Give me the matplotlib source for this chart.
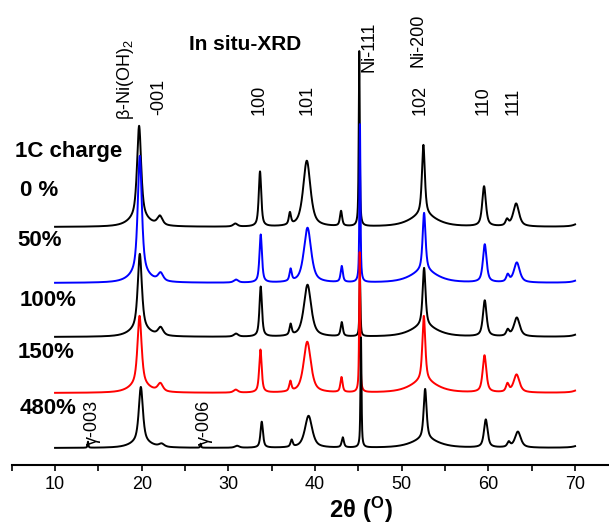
import numpy as np
import matplotlib
matplotlib.use("Agg")
import matplotlib.pyplot as plt

plt.rcParams['font.family'] = ['Liberation Sans', 'DejaVu Sans']
plt.rcParams['mathtext.fontset'] = 'custom'
plt.rcParams['mathtext.rm'] = 'Liberation Sans'
plt.rcParams['mathtext.bf'] = 'Liberation Sans:bold'

# reflection positions (2theta, deg) and half widths
peak_pos = [13.6, 19.7, 19.7, 22.1, 26.6, 30.8, 33.65, 37.1, 39.05, 43.0,
            45.1, 52.5, 52.5, 59.5, 62.15, 63.2, 71.0]
peak_hw = [0.06, 0.28, 1.3, 0.35, 0.06, 0.3, 0.17, 0.15, 0.5, 0.15,
           0.07, 0.2, 1.8, 0.25, 0.2, 0.4, 0.7]

# peak heights for each state of charge
labels = ['0 %', '50%', '100%', '150%', '480%']
colors = ['black', 'blue', 'black', 'red', 'black']
offsets = [238, 182, 128, 72, 17]
shifts = [0.0, 0.08, 0.08, 0.05, 0.2]
h_0 = [0, 92, 9, 9, 0, 3, 55, 12, 66, 15, 175, 70, 12, 40, 6, 23, 8]
h_50 = [0, 118, 9, 8, 0, 3, 48, 12, 55, 16, 158, 58, 12, 38, 7, 20, 8]
h_100 = [0, 75, 8, 8, 0, 3, 50, 11, 52, 14, 60, 58, 11, 36, 6, 19, 8]
h_150 = [0, 69, 8, 8, 0, 3, 43, 10, 51, 15, 140, 65, 12, 37, 8, 18, 8]
h_480 = [6, 55, 6, 3, 4, 2, 26, 7, 32, 10, 110, 50, 9, 28, 5, 16, 8]
heights = [h_0, h_50, h_100, h_150, h_480]

# hkl markers: text, 2theta, bottom of text
hkl_text = [r'β-Ni(OH)$_2$', '-001', '100', '101', 'Ni-111', 'Ni-200',
            '102', '110', '111', 'γ-003', 'γ-006']
hkl_x = [18.1, 22.0, 33.6, 39.1, 46.2, 51.9, 52.1, 59.4, 62.85, 14.3, 27.2]
hkl_y = [345, 350, 350, 350, 393, 398, 350, 350, 350, 20, 20]


def pattern(x, shift, hs):
    y = np.zeros_like(x)
    for p, w, h in zip(peak_pos, peak_hw, hs):
        d = (x - p - shift) / w
        lor = 1 / (1 + d ** 2)
        gau = np.exp(-np.log(2) * d ** 2)
        y += h * (0.7 * lor + 0.3 * gau)
    return y


tt = np.arange(10, 70.001, 0.01)

fig = plt.figure(figsize=(6.09, 5.25), dpi=100)
ax = fig.add_axes([11.7 / 609, 60 / 525, 606.7 / 609, 465 / 525])

for hs, off, sh, c in zip(heights, offsets, shifts, colors):
    ax.plot(tt, off + pattern(tt, sh, hs), color=c, lw=1.4)

ax.set_xlim(5, 75)
ax.set_ylim(0, 465)
for s in ['left', 'right', 'top']:
    ax.spines[s].set_visible(False)
ax.spines['bottom'].set_linewidth(1.5)
ax.set_yticks([])
ax.set_xticks(np.arange(10, 71, 10))
ax.set_xticks(np.arange(5, 76, 10), minor=True)
ax.tick_params(axis='x', which='both', direction='out', length=4, width=1.2,
               labelsize=13, pad=4)

for t, x, y in zip(hkl_text, hkl_x, hkl_y):
    ax.text(x, y, t, rotation=90, ha='center', va='bottom', fontsize=13)

ax.text(245 / 609, 1 - 45 / 525, 'In situ-XRD', transform=fig.transFigure,
        ha='center', va='center', fontsize=15, fontweight='bold')
fig.text(15 / 609, 1 - 152 / 525, '1C charge', ha='left', va='center',
         fontsize=16, fontweight='bold')
lab_x = [20, 17, 20, 18, 20]
lab_y = [190, 241, 300, 352, 408]
for t, x, y in zip(labels, lab_x, lab_y):
    fig.text(x / 609, 1 - y / 525, t, ha='left', va='center',
             fontsize=16, fontweight='bold')

fig.text(361 / 609, 1 - 510 / 525, r'$\mathbf{2θ\ (^{O})}$', ha='center',
         va='center', fontsize=17)

fig.savefig('out.png', dpi=100)
